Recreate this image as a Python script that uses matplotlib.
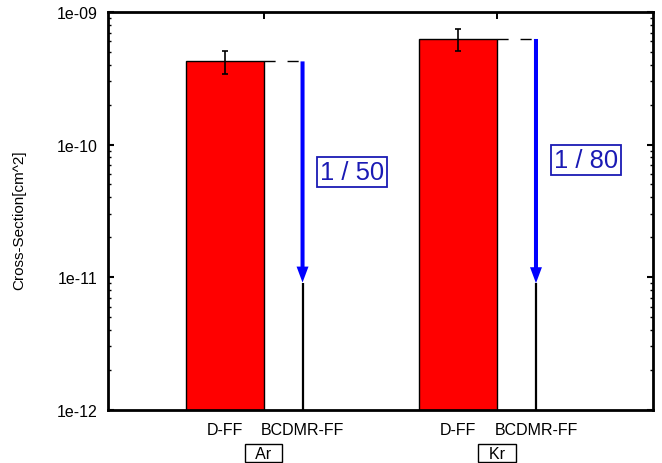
import matplotlib
matplotlib.use('Agg')
import matplotlib.pyplot as plt
import numpy as np
from matplotlib.ticker import FixedLocator, NullFormatter, LogLocator
from matplotlib.transforms import blended_transform_factory

plt.rcParams['font.family'] = ['Liberation Sans', 'DejaVu Sans']

# ---- data ----
groups = ['Ar', 'Kr']
series = ['D-FF', 'BCDMR-FF']
dff = [4.24e-10, 6.26e-10]
dff_err = [0.82e-10, 1.2e-10]
bcdmr = [9.1e-12, 9.0e-12]
ratio_labels = ['1 / 50', '1 / 80']
ytick_vals = [1e-12, 1e-11, 1e-10, 1e-9]
ytick_labels = ['1e-12', '1e-11', '1e-10', '1e-09']
ylabel = 'Cross-Section[cm^2]'

W, H = 662, 464
fig = plt.figure(figsize=(W / 100, H / 100), dpi=100)
L, R, T, B = 108, 652.7, 13, 410.7
ax = fig.add_axes([L / W, 1 - B / H, (R - L) / W, (B - T) / H])
ax.set_yscale('log')

gpos = np.arange(1, len(groups) + 1, dtype=float)
w = 1 / 3
xd = gpos - w / 2
xb = gpos + w / 2

ax.bar(xd, dff, width=w, color='#ff0000', edgecolor='black', linewidth=1.0, zorder=2)
ax.errorbar(xd, dff, yerr=dff_err, fmt='none', ecolor='black', elinewidth=1.2,
            capsize=2, capthick=1.2, zorder=3)
ax.bar(xb, bcdmr, width=0.0, color='white', edgecolor='black', linewidth=1.6, zorder=2)

blue = '#0000ff'
txtblue = '#1a1ab4'
for i in range(len(groups)):
    ax.plot([xd[i] + w / 2, xb[i]], [dff[i], dff[i]], color='black', lw=1.0,
            dashes=(8, 8.6), zorder=1)
    ax.annotate('', xy=(xb[i], bcdmr[i]), xytext=(xb[i], dff[i]),
                arrowprops=dict(arrowstyle='simple,head_length=1.15,head_width=0.86,tail_width=0.29',
                                mutation_scale=10, color=blue, lw=0, shrinkA=0, shrinkB=0),
                zorder=4)

btr = blended_transform_factory(ax.transData, ax.transAxes)
ratio_y = [0.598, 0.627]
for i, lab in enumerate(ratio_labels):
    ax.text(gpos[i] + 0.38, ratio_y[i], lab, transform=btr, fontsize=18.4,
            color=txtblue, ha='center', va='center',
            bbox=dict(boxstyle='square,pad=0.12', fc='white', ec=txtblue, lw=1.3))

for i, g in enumerate(groups):
    ax.text(gpos[i], -0.109, '  ' + g + '  ', transform=btr, fontsize=11.5,
            ha='center', va='center',
            bbox=dict(boxstyle='square,pad=0.1', fc='white', ec='black', lw=1.0))

ax.set_xlim(1 / 3, 8 / 3)
ax.set_ylim(1e-12, 1e-9)

# x ticks: majors at group centres (no label), minors carry series labels
ax.xaxis.set_major_locator(FixedLocator(gpos))
ax.xaxis.set_major_formatter(NullFormatter())
sub_pos = np.concatenate([xd, xb])
sub_lab = [series[0]] * len(groups) + [series[1]] * len(groups)
ax.set_xticks(sub_pos, sub_lab, minor=True)
ax.tick_params(axis='x', which='major', direction='in', length=5, width=1.4,
               top=True, bottom=True)
ax.tick_params(axis='x', which='minor', length=0, pad=9, labelsize=11.5)

ax.set_yticks(ytick_vals, ytick_labels)
ax.yaxis.set_minor_locator(LogLocator(base=10, subs=np.arange(2, 10)))
ax.yaxis.set_minor_formatter(NullFormatter())
ax.tick_params(axis='y', which='major', direction='in', length=4.5, width=1.5,
               left=True, right=True, labelsize=11.5, pad=7.5)
ax.tick_params(axis='y', which='minor', direction='in', length=2.2, width=1.0,
               left=True, right=True)

for s in ax.spines.values():
    s.set_linewidth(2.0)
    s.set_color('black')

ax.set_ylabel(ylabel, fontsize=11, va='center')
ax.yaxis.set_label_coords((19.5 - L) / (R - L), 0.48)

fig.savefig('out.png', dpi=100)
